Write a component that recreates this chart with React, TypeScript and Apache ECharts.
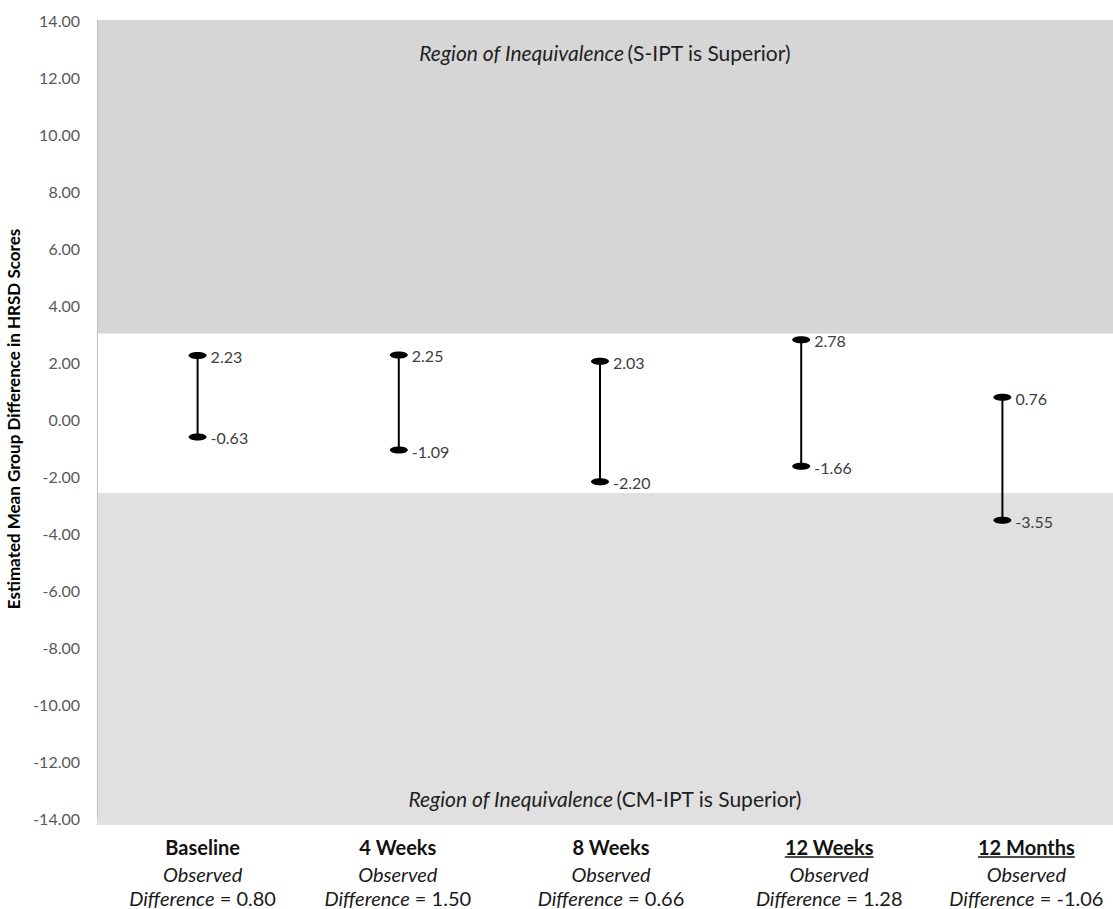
import React, { useEffect, useRef } from "react";
import * as echarts from "echarts";

const categories = ["Baseline", "4 Weeks", "8 Weeks", "12 Weeks", "12 Months"];
const underlined = [false, false, false, true, true];
const observedDiff = [0.8, 1.5, 0.66, 1.28, -1.06];
const upperCI = [2.23, 2.25, 2.03, 2.78, 0.76];
const lowerCI = [-0.63, -1.09, -2.2, -1.66, -3.55];
const labelShift = [5, -1, 11, 28, 24];
const upperBound = 3.0;
const lowerBound = -2.6;
const yMin = -14;
const yMax = 14;
const yStep = 2;
const upperText = ["Region of Inequivalence", "(S-IPT is Superior)"];
const lowerText = ["Region of Inequivalence", "(CM-IPT is Superior)"];
const yTitle = "Estimated Mean Group Difference in HRSD Scores";

const FONT = "Lato, 'Open Sans', sans-serif";

export default function App() {
  const ref = useRef<HTMLDivElement>(null);
  useEffect(() => {
    if (!ref.current) return;
    const chart = echarts.init(ref.current, null, { renderer: "svg" });
    const errData = categories.map((_, i) => [i, lowerCI[i], upperCI[i]]);
    const option: any = {
      animation: false,
      backgroundColor: "#ffffff",
      textStyle: { fontFamily: FONT },
      grid: [
        { left: 97, top: 20, width: 1016, height: 805, outerBoundsMode: "none", containLabel: false },
        { left: 97, top: 20, width: 1006, height: 798, outerBoundsMode: "none", containLabel: false },
      ],
      xAxis: [
        { type: "value", gridIndex: 0, min: 0, max: 1, show: false },
        {
          type: "category",
          gridIndex: 1,
          boundaryGap: true,
          data: categories.map((c, i) => ({
            value: c,
            textStyle: { padding: labelShift[i] >= 0 ? [0, 0, 0, 2 * labelShift[i]] : [0, -2 * labelShift[i], 0, 0] },
          })),
          axisLine: { show: false },
          axisTick: { show: false },
          axisLabel: {
            interval: 0,
            margin: 15,
            formatter: (v: string, i: number) =>
              `{b|${v}}\n{i|Observed}\n{j|Difference}{n| = ${observedDiff[i].toFixed(2)}}`,
            rich: {
              b: { fontFamily: FONT, fontWeight: "bold", fontSize: 20, color: "#111111", lineHeight: 27 },
              i: { fontFamily: FONT, fontStyle: "italic", fontSize: 20, color: "#1a1a1a", lineHeight: 27 },
              j: { fontFamily: FONT, fontStyle: "italic", fontSize: 20, color: "#1a1a1a", lineHeight: 22 },
              n: { fontFamily: FONT, fontSize: 20, color: "#1a1a1a", lineHeight: 22 },
            },
          },
        },
      ],
      yAxis: [
        { type: "value", gridIndex: 0, min: -14.25, max: yMax, show: false },
        {
          type: "value",
          gridIndex: 1,
          min: yMin,
          max: yMax,
          interval: yStep,
          z: 10,
          splitLine: { show: false },
          axisTick: { show: false },
          axisLine: { show: true, lineStyle: { color: "#bfbfbf", width: 1 } },
          axisLabel: {
            margin: 17,
            fontFamily: FONT,
            fontSize: 16,
            color: "#595959",
            formatter: (v: number) => v.toFixed(2),
          },
          name: yTitle,
          nameLocation: "middle",
          nameRotate: 90,
          nameGap: 72,
          nameTextStyle: { fontFamily: FONT, fontWeight: "bold", fontSize: 17, color: "#000000" },
        },
      ],
      series: [
        {
          type: "line",
          xAxisIndex: 0,
          yAxisIndex: 0,
          data: [],
          silent: true,
          z: 0,
          markArea: {
            silent: true,
            data: [
              [
                {
                  yAxis: upperBound,
                  itemStyle: { color: "#d6d6d6" },
                  label: {
                    show: true,
                    position: "insideTop",
                    distance: 22,
                    formatter: `{i|${upperText[0]}} {n|${upperText[1]}}`,
                  },
                },
                { yAxis: yMax },
              ],
              [
                {
                  yAxis: lowerBound,
                  itemStyle: { color: "#e0e0e0" },
                  label: {
                    show: true,
                    position: "insideBottom",
                    distance: 16,
                    formatter: `{i|${lowerText[0]}} {n|${lowerText[1]}}`,
                  },
                },
                { yAxis: -14.25 },
              ],
            ],
            label: {
              rich: {
                i: { fontFamily: FONT, fontStyle: "italic", fontSize: 21, color: "#1f1f1f" },
                n: { fontFamily: FONT, fontSize: 21, color: "#1f1f1f" },
              },
            },
          },
        },
        {
          type: "custom",
          xAxisIndex: 1,
          yAxisIndex: 1,
          data: errData,
          z: 5,
          renderItem: (params: any, api: any) => {
            const x = api.value(0);
            const lo = api.value(1);
            const hi = api.value(2);
            const pLo = api.coord([x, lo]);
            const pHi = api.coord([x, hi]);
            return {
              type: "group",
              children: [
                {
                  type: "line",
                  shape: { x1: pLo[0], y1: pLo[1], x2: pHi[0], y2: pHi[1] },
                  style: { stroke: "#000000", lineWidth: 2 },
                },
                { type: "ellipse", shape: { cx: pHi[0], cy: pHi[1], rx: 9, ry: 3.5 }, style: { fill: "#000000" } },
                { type: "ellipse", shape: { cx: pLo[0], cy: pLo[1], rx: 9, ry: 3.5 }, style: { fill: "#000000" } },
                {
                  type: "text",
                  x: pHi[0] + 13,
                  y: pHi[1] + 1,
                  style: {
                    text: hi.toFixed(2),
                    fill: "#404040",
                    fontSize: 16,
                    fontFamily: FONT,
                    verticalAlign: "middle",
                    align: "left",
                  },
                },
                {
                  type: "text",
                  x: pLo[0] + 13,
                  y: pLo[1] + 1,
                  style: {
                    text: lo.toFixed(2),
                    fill: "#404040",
                    fontSize: 16,
                    fontFamily: FONT,
                    verticalAlign: "middle",
                    align: "left",
                  },
                },
              ],
            };
          },
        },
      ],
    };
    chart.setOption(option);

    // underlines for emphasized category titles
    const canvas = document.createElement("canvas");
    const ctx = canvas.getContext("2d");
    const lines: any[] = [];
    categories.forEach((c, i) => {
      if (!underlined[i] || !ctx) return;
      ctx.font = `bold 20px ${FONT}`;
      const w = ctx.measureText(c).width;
      const cx = chart.convertToPixel({ xAxisIndex: 1 }, i) + labelShift[i];
      const yPix = chart.convertToPixel({ yAxisIndex: 1 }, yMin) + 39;
      lines.push({
        type: "line",
        shape: { x1: cx - w / 2, y1: yPix, x2: cx + w / 2, y2: yPix },
        style: { stroke: "#111111", lineWidth: 1.5 },
        silent: true,
      });
    });
    chart.setOption({ graphic: lines });

    return () => chart.dispose();
  }, []);
  return (
    <div
      ref={ref}
      style={{ position: "fixed", left: 0, top: 0, width: 1113, height: 909, background: "#fff" }}
    />
  );
}
